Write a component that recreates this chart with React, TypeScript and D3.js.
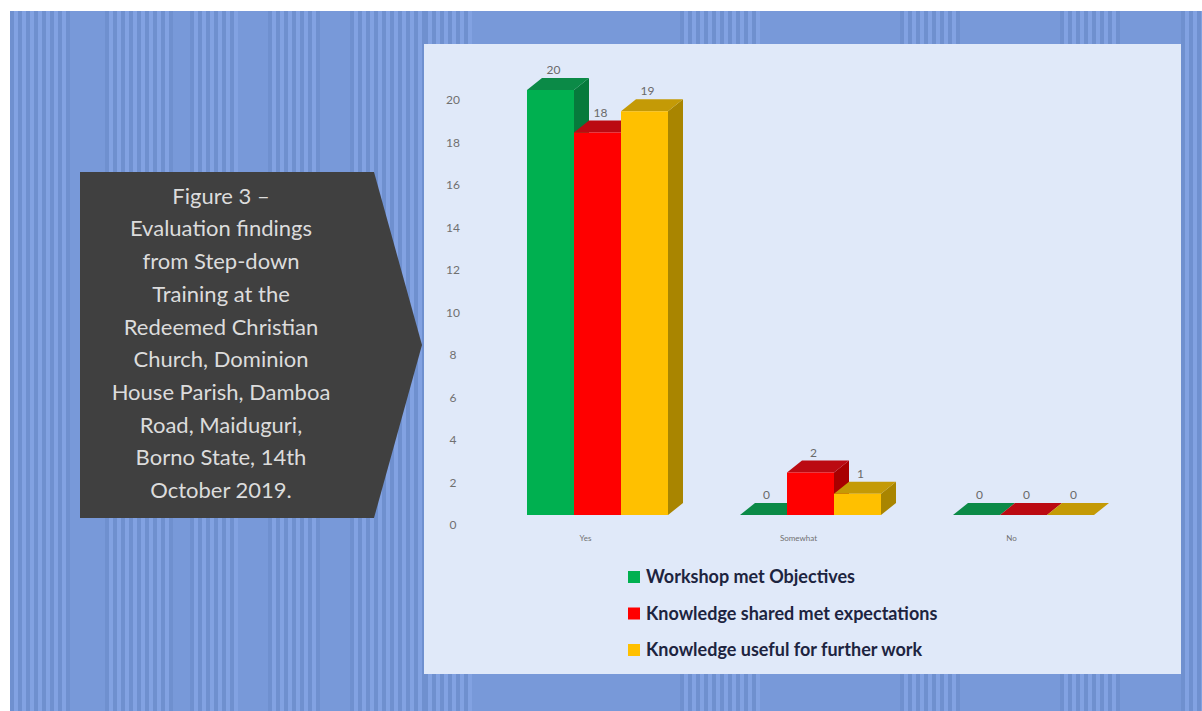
import React from "react";
import * as d3 from "d3";

const categories = ["Yes", "Somewhat", "No"];
const seriesNames = [
  "Workshop met Objectives",
  "Knowledge shared met expectations",
  "Knowledge useful for further work",
];
const workshopMet = [20, 0, 0];
const sharedMet = [18, 2, 0];
const usefulFurther = [19, 1, 0];
const seriesValues = [workshopMet, sharedMet, usefulFurther];
const yTicks = d3.range(0, 21, 2);

const calloutLines = [
  "Figure 3 –",
  "Evaluation findings",
  "from Step-down",
  "Training at the",
  "Redeemed Christian",
  "Church, Dominion",
  "House Parish, Damboa",
  "Road, Maiduguri,",
  "Borno State, 14th",
  "October 2019.",
];

// Colours per series: front face, top face, side face
const front = ["#00b050", "#ff0000", "#ffc000"];
const top = ["#0b8a47", "#bb0a12", "#c49a06"];
const side = ["#067a3c", "#a80000", "#a98500"];

// Vertical bands of the backdrop that carry the woven stripes
const stripeZones = [
  [10, 70], [105, 170], [190, 236], [268, 318], [350, 424], [1181, 1202],
  [424, 470], [680, 760], [900, 960], [1060, 1120],
];
const panelStripeFloor = 674;

const WIDTH = 1202;
const HEIGHT = 711;
const DEPTH_X = 15;
const DEPTH_Y = 12;
const FLOOR_LIFT = 10;

const y = d3.scaleLinear().domain([0, 20]).range([525, 100]);
const x0 = d3.scaleBand().domain(categories).range([491, 1130]).paddingInner(0.338).paddingOuter(0.169);
const x1 = d3.scaleBand().domain(["0", "1", "2"]).range([0, x0.bandwidth()]);
const poly = (pts: number[][]) => (d3.line()(pts as [number, number][]) as string) + "Z";

function Bar({ cat, s, v }: { cat: string; s: number; v: number }) {
  const l = (x0(cat) as number) + (x1(String(s)) as number);
  const r = l + x1.bandwidth();
  const t = y(v) - FLOOR_LIFT;
  const b = y(0) - FLOOR_LIFT;
  return (
    <g>
      <path d={poly([[r, t], [r + DEPTH_X, t - DEPTH_Y], [r + DEPTH_X, b - DEPTH_Y], [r, b]])} fill={side[s]} />
      <path d={poly([[l, t], [l + DEPTH_X, t - DEPTH_Y], [r + DEPTH_X, t - DEPTH_Y], [r, t]])} fill={top[s]} />
      {v > 0 && <rect x={l} y={t} width={r - l} height={b - t} fill={front[s]} />}
      <text
        x={(l + r) / 2 + 3}
        y={t - DEPTH_Y - 4}
        textAnchor="middle"
        fontSize={12}
        fill="#6a6a6a"
        fontFamily="Lato"
      >
        {v}
      </text>
    </g>
  );
}

export default function App() {
  return (
    <svg
      width={WIDTH}
      height={HEIGHT}
      style={{ position: "absolute", left: 0, top: 0, display: "block", background: "#fff" }}
    >
      <rect x={10} y={11} width={WIDTH - 10} height={HEIGHT - 11} fill="#7899d9" />
      {stripeZones.map(([a, b]) =>
        d3.range(a, b, 4).map((sx, i) => (
          <rect
            key={`${a}-${sx}`}
            x={sx}
            y={11}
            width={4}
            height={HEIGHT - 11}
            fill={i % 2 ? "#82a2e2" : "#6f90cf"}
          />
        ))
      )}

      <rect x={424} y={44} width={757} height={panelStripeFloor - 44} fill="#e0e9f9" />

      <path
        d={poly([[80, 172], [374, 172], [422, 345], [374, 518], [80, 518]])}
        fill="#404040"
      />
      {calloutLines.map((line, i) => (
        <text
          key={line}
          x={221}
          y={196 + i * 32.7}
          dy="0.35em"
          textAnchor="middle"
          fontSize={22}
          fontFamily="Lato"
          fill="#dcdcdc"
        >
          {line}
        </text>
      ))}

      {yTicks.map((t) => (
        <text
          key={t}
          x={453}
          y={y(t)}
          dy="0.35em"
          textAnchor="middle"
          fontSize={12}
          fontFamily="Lato"
          fill="#707070"
        >
          {t}
        </text>
      ))}

      {categories.map((c, ci) => (
        <g key={c}>
          {seriesValues.map((vals, s) => (
            <Bar key={s} cat={c} s={s} v={vals[ci]} />
          ))}
          <text
            x={(x0(c) as number) + x0.bandwidth() / 2 - 12}
            y={541}
            textAnchor="middle"
            fontSize={8}
            fontFamily="Lato"
            fill="#707070"
          >
            {c}
          </text>
        </g>
      ))}

      {seriesNames.map((name, s) => (
        <g key={name}>
          <rect x={628} y={571 + s * 36.5} width={12} height={12} fill={front[s]} />
          <text
            x={646}
            y={577 + s * 36.5}
            dy="0.35em"
            fontSize={18}
            fontWeight={700}
            fontFamily="Lato"
            fill="#1d2440"
          >
            {name}
          </text>
        </g>
      ))}
    </svg>
  );
}
